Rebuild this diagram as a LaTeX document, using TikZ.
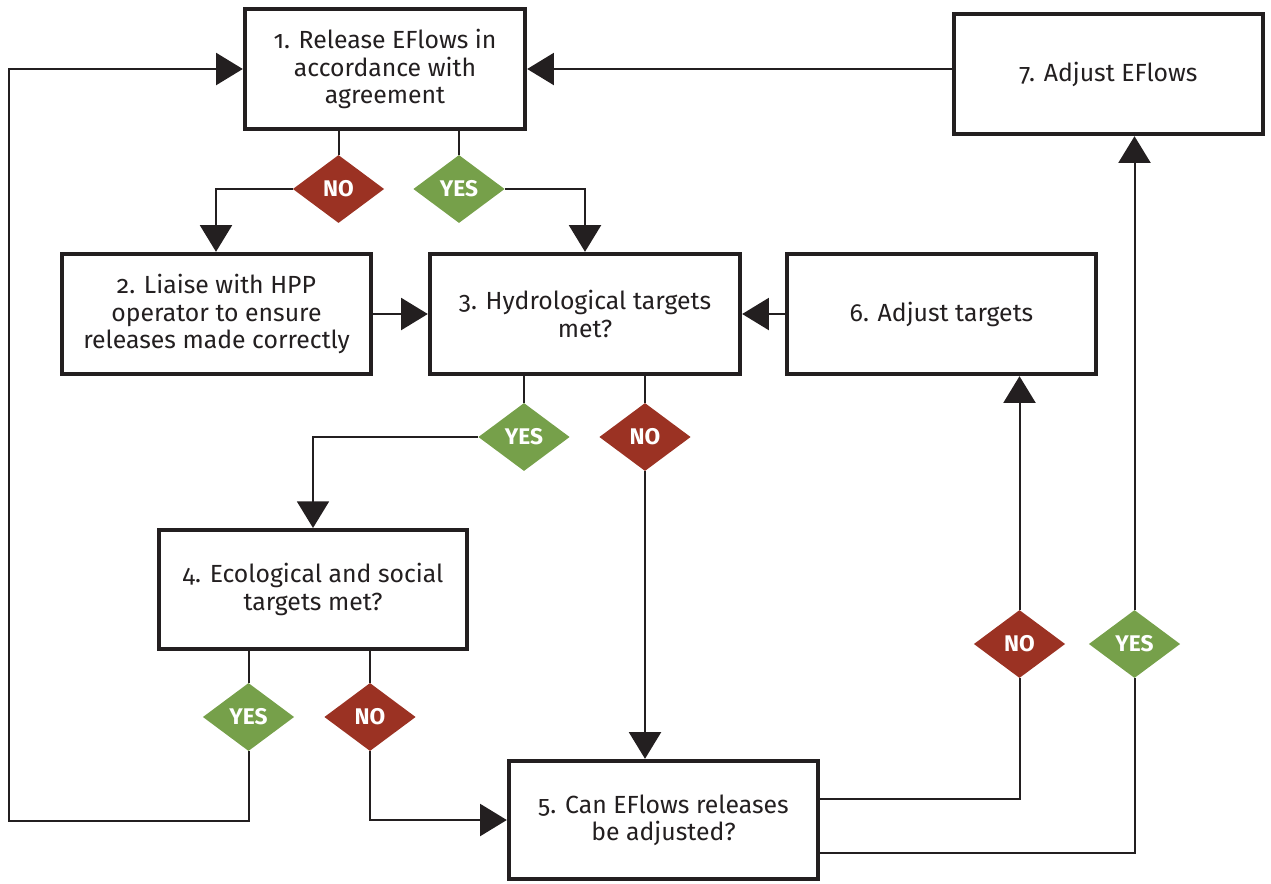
\documentclass[tikz,border=0pt]{standalone}
\usepackage{fontspec}
\setmainfont{Fira Sans}[Numbers=OldStyle]
\usetikzlibrary{shapes.geometric,arrows.meta,calc}
\definecolor{ink}{RGB}{35,31,32}
\definecolor{nored}{RGB}{155,50,35}
\definecolor{yesgreen}{RGB}{118,160,74}
\tikzset{
  stepbox/.style={draw=ink,line width=3.3pt,fill=white,align=center,inner sep=0pt,
    font=\fontsize{18.6}{20.5}\selectfont,text=ink},
  dec/.style={shape=diamond,inner sep=0pt,minimum width=68.5pt,minimum height=51pt,
    font=\fontsize{17}{18}\selectfont\bfseries,text=white},
  nodec/.style={dec,fill=nored},
  yesdec/.style={dec,fill=yesgreen},
  conn/.style={draw=ink,line width=1.5pt},
  arr/.style={conn,-{Triangle[length=20pt,width=24pt]}}
}
\begin{document}
\begin{tikzpicture}[x=0.75pt,y=-0.75pt]
\useasboundingbox (0,0) rectangle (1271,883);
% boxes
\node[stepbox,minimum width=210pt,minimum height=90pt] (b1) at (385,69) {1. Release EFlows in\\accordance with\\agreement};
\node[stepbox,minimum width=231.75pt,minimum height=90pt] (b7) at (1108.5,74) {7. Adjust EFlows};
\node[stepbox,minimum width=231.75pt,minimum height=90pt] (b2) at (216.5,314) {2. Liaise with HPP\\operator to ensure\\releases made correctly};
\node[stepbox,minimum width=232.5pt,minimum height=90pt] (b3) at (585,314) {3. Hydrological targets\\met?};
\node[stepbox,minimum width=231.75pt,minimum height=90pt] (b6) at (941.5,314) {6. Adjust targets};
\node[stepbox,minimum width=231pt,minimum height=89pt] (b4) at (313,589.5) {4. Ecological and social\\targets met?};
\node[stepbox,minimum width=231.75pt,minimum height=88.5pt] (b5) at (663.5,820) {5. Can EFlows releases\\be adjusted?};
% decisions
\node[nodec] (d1n) at (338.5,189) {NO};
\node[yesdec] (d1y) at (459,189) {YES};
\node[yesdec] (d3y) at (524,437) {YES};
\node[nodec] (d3n) at (645,437) {NO};
\node[yesdec] (d4y) at (248.5,717) {YES};
\node[nodec] (d4n) at (370,717) {NO};
\node[nodec] (d5n) at (1019.5,644) {NO};
\node[yesdec] (d5y) at (1134.5,644) {YES};
\coordinate (lft) at (8.5,821);
% connectors
\draw[conn] (b1.south -| d1n) -- (d1n.north);
\draw[arr] (d1n.west) -| (b2.north -| 216,0);
\draw[conn] (b1.south -| d1y) -- (d1y.north);
\draw[arr] (d1y.east) -| (b3.north);
\draw[arr] (b2.east) -- (b3.west);
\draw[arr] (b6.west) -- (b3.east);
\draw[arr] (b1.east -| b7.west) -- (b1.east);
\draw[conn] (b3.south -| d3y) -- (d3y.north);
\draw[arr] (d3y.west) -| (b4.north);
\draw[conn] (b3.south -| d3n) -- (d3n.north);
\draw[arr] (d3n.south) -- (d3n.south |- b5.north);
\draw[conn] (b4.south -| d4y) -- (d4y.north);
\draw[arr] (d4y.south) |- (lft) |- (b1.west);
\draw[conn] (b4.south -| d4n) -- (d4n.north);
\draw[arr] (d4n.south) |- (b5.west);
\draw[conn] (b5.east |- 0,799) -| (d5n.south);
\draw[arr] (d5n.north) -- (d5n.north |- b6.south);
\draw[conn] (b5.east |- 0,853) -| (d5y.south);
\draw[arr] (d5y.north) -- (d5y.north |- b7.south);
\end{tikzpicture}
\end{document}
